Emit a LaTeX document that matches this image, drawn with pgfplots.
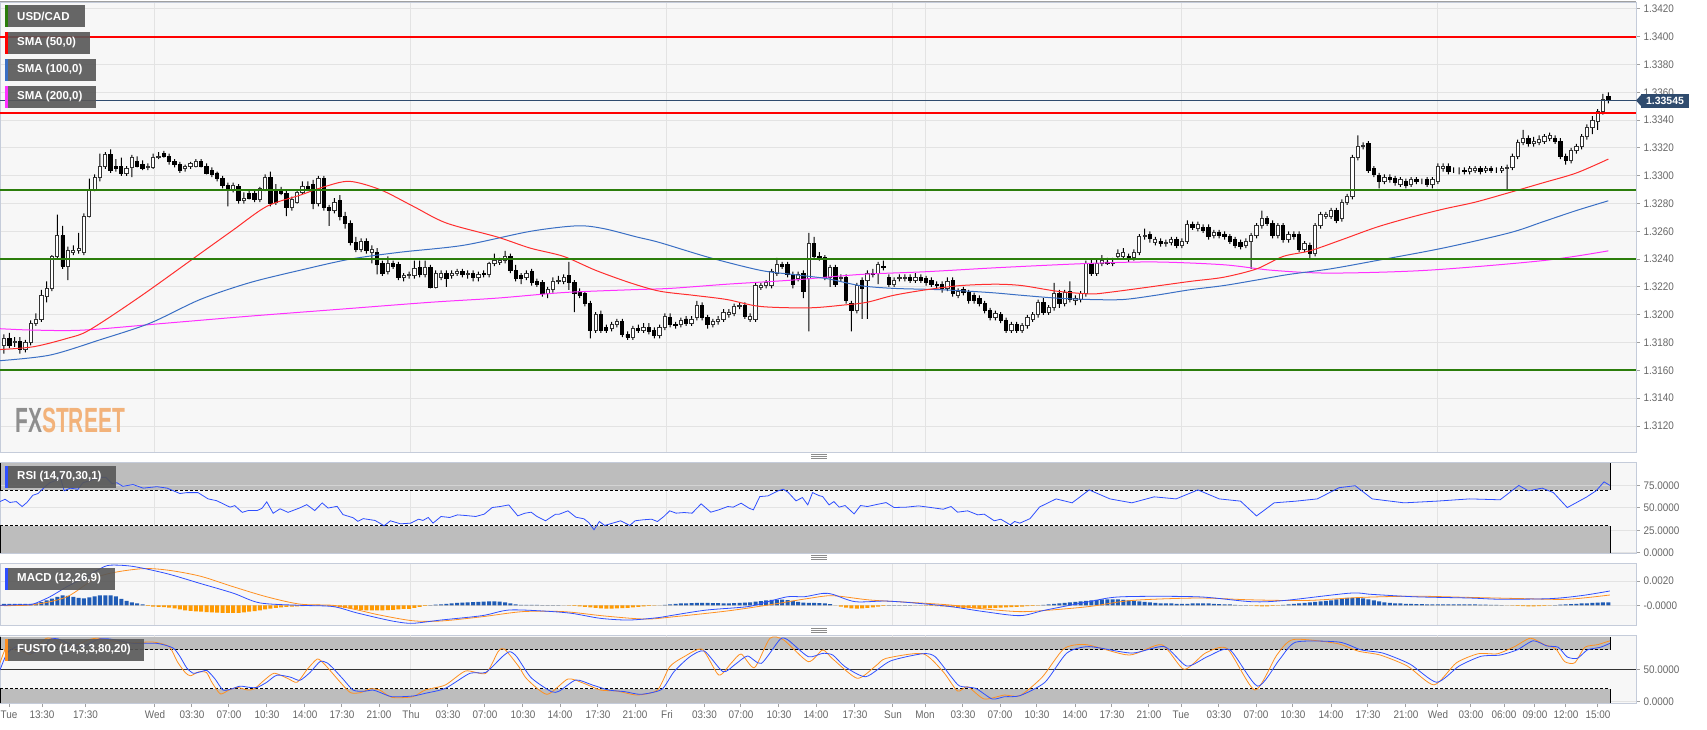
\documentclass[border=0pt]{standalone}
\usepackage{pgfplots}
\usepackage{pgfplotstable}
\pgfplotsset{compat=1.18}
\usepackage{fontspec}
\setmainfont{Liberation Sans}
\newfontfamily\tickfont{Liberation Sans}[FakeStretch=0.9]
\newfontfamily\logofont{Liberation Sans}[FakeStretch=0.6]

\definecolor{panelbg}{HTML}{F7F7F7}
\definecolor{panelbd}{HTML}{C5CCDA}
\definecolor{gridc}{HTML}{E3E3E3}
\definecolor{labc}{HTML}{666666}
\definecolor{tickc}{HTML}{A0A0A0}
\definecolor{bandc}{HTML}{BDBDBD}
\definecolor{srred}{HTML}{FF0000}
\definecolor{srgreen}{HTML}{2B7D0B}
\definecolor{pricec}{HTML}{2F4B6E}
\definecolor{smared}{HTML}{FF2E2E}
\definecolor{smablue}{HTML}{3A6FC4}
\definecolor{smamag}{HTML}{FF30FF}
\definecolor{legbg}{HTML}{575757}
\definecolor{indblue}{HTML}{2F4FFF}
\definecolor{indorange}{HTML}{FF9020}
\definecolor{histblue}{HTML}{1F5BB5}
\definecolor{historange}{HTML}{FF9A00}
\definecolor{logogray}{HTML}{8E8E8E}
\definecolor{logoorange}{HTML}{F2B27A}

\pgfplotsset{
  panel/.style={
    scale only axis, width=1636pt, anchor=north west,
    xmin=-0.75, xmax=306.2,
    axis background/.style={fill=panelbg},
    axis line style={draw=panelbd, line width=1pt},
    grid style={draw=gridc, line width=1pt},
    xtick={28.33,76.36,124.39,166.79,172.80,220.83,269.04},
    xticklabels={}, xmajorgrids, ymajorgrids,
    xtick style={draw=none},
    ytick pos=right, yticklabel pos=right,
    tick align=outside, major tick length=4pt,
    ytick style={draw=tickc, line width=1pt},
    yticklabel style={font=\tickfont\fontsize{11}{12}\selectfont, text=labc},
  },
  over/.style={
    scale only axis, width=1636pt, anchor=north west,
    xmin=-0.75, xmax=306.2, hide axis,
  },
}

% open high low close, one row per 30-minute candle
\pgfplotstableread{
o h l c
1.3178 1.3186 1.3172 1.3183
1.3183 1.3187 1.3176 1.3178
1.3180 1.3184 1.3177 1.3181
1.3181 1.3184 1.3172 1.3175
1.3175 1.3182 1.3173 1.3180
1.3180 1.3196 1.3178 1.3194
1.3194 1.3201 1.3192 1.3197
1.3197 1.3218 1.3195 1.3214
1.3213 1.3224 1.3209 1.3219
1.3219 1.3243 1.3217 1.3242
1.3242 1.3272 1.3240 1.3257
1.3257 1.3264 1.3233 1.3235
1.3235 1.3249 1.3225 1.3246
1.3245 1.3250 1.3243 1.3246
1.3246 1.3259 1.3244 1.3248
1.3245 1.3273 1.3243 1.3271
1.3271 1.3298 1.3270 1.3290
1.3290 1.3301 1.3289 1.3299
1.3299 1.3316 1.3296 1.3307
1.3307 1.3317 1.3305 1.3315
1.3315 1.3319 1.3302 1.3304
1.3307 1.3312 1.3303 1.3305
1.3307 1.3313 1.3300 1.3302
1.3302 1.3307 1.3300 1.3305
1.3306 1.3315 1.3299 1.3313
1.3310 1.3314 1.3306 1.3307
1.3308 1.3311 1.3304 1.3305
1.3306 1.3309 1.3304 1.3307
1.3306 1.3316 1.3305 1.3313
1.3313 1.3317 1.3312 1.3314
1.3316 1.3318 1.3313 1.3314
1.3314 1.3316 1.3308 1.3310
1.3310 1.3312 1.3306 1.3308
1.3308 1.3310 1.3302 1.3304
1.3305 1.3308 1.3303 1.3307
1.3307 1.3310 1.3305 1.3309
1.3307 1.3312 1.3306 1.3310
1.3310 1.3312 1.3306 1.3307
1.3307 1.3309 1.3301 1.3302
1.3304 1.3306 1.3299 1.3301
1.3302 1.3303 1.3296 1.3298
1.3298 1.3300 1.3291 1.3293
1.3293 1.3295 1.3278 1.3290
1.3290 1.3295 1.3288 1.3293
1.3292 1.3294 1.3280 1.3282
1.3282 1.3288 1.3280 1.3284
1.3287 1.3290 1.3283 1.3284
1.3287 1.3290 1.3281 1.3283
1.3283 1.3292 1.3281 1.3291
1.3290 1.3301 1.3289 1.3299
1.3299 1.3303 1.3278 1.3280
1.3289 1.3294 1.3279 1.3281
1.3290 1.3292 1.3286 1.3287
1.3287 1.3289 1.3271 1.3277
1.3277 1.3285 1.3275 1.3283
1.3281 1.3290 1.3280 1.3288
1.3288 1.3296 1.3287 1.3292
1.3292 1.3296 1.3289 1.3290
1.3294 1.3297 1.3276 1.3280
1.3280 1.3300 1.3278 1.3298
1.3298 1.3300 1.3275 1.3277
1.3277 1.3279 1.3264 1.3275
1.3275 1.3284 1.3273 1.3281
1.3282 1.3286 1.3268 1.3271
1.3271 1.3274 1.3262 1.3266
1.3266 1.3268 1.3250 1.3252
1.3252 1.3256 1.3245 1.3247
1.3247 1.3255 1.3245 1.3253
1.3253 1.3255 1.3244 1.3246
1.3245 1.3250 1.3237 1.3247
1.3245 1.3248 1.3229 1.3236
1.3237 1.3239 1.3228 1.3230
1.3231 1.3242 1.3229 1.3237
1.3237 1.3239 1.3233 1.3235
1.3236 1.3238 1.3225 1.3227
1.3227 1.3230 1.3224 1.3228
1.3228 1.3231 1.3226 1.3229
1.3228 1.3239 1.3226 1.3233
1.3234 1.3239 1.3227 1.3229
1.3229 1.3239 1.3227 1.3234
1.3234 1.3236 1.3219 1.3220
1.3220 1.3232 1.3219 1.3230
1.3227 1.3232 1.3225 1.3230
1.3230 1.3232 1.3220 1.3226
1.3228 1.3232 1.3226 1.3230
1.3230 1.3233 1.3228 1.3231
1.3231 1.3233 1.3227 1.3229
1.3229 1.3232 1.3226 1.3230
1.3230 1.3232 1.3224 1.3227
1.3227 1.3231 1.3224 1.3229
1.3230 1.3232 1.3227 1.3229
1.3229 1.3238 1.3227 1.3237
1.3237 1.3244 1.3235 1.3239
1.3238 1.3241 1.3236 1.3239
1.3239 1.3246 1.3237 1.3242
1.3242 1.3244 1.3230 1.3232
1.3232 1.3236 1.3224 1.3226
1.3228 1.3230 1.3222 1.3226
1.3227 1.3232 1.3225 1.3230
1.3231 1.3233 1.3221 1.3223
1.3224 1.3226 1.3220 1.3222
1.3223 1.3225 1.3213 1.3215
1.3215 1.3220 1.3212 1.3218
1.3218 1.3227 1.3216 1.3224
1.3224 1.3228 1.3222 1.3225
1.3224 1.3229 1.3222 1.3227
1.3228 1.3238 1.3218 1.3223
1.3223 1.3225 1.3202 1.3215
1.3217 1.3219 1.3212 1.3214
1.3215 1.3217 1.3206 1.3208
1.3208 1.3210 1.3183 1.3189
1.3189 1.3202 1.3187 1.3200
1.3200 1.3203 1.3187 1.3189
1.3191 1.3193 1.3187 1.3189
1.3190 1.3195 1.3188 1.3193
1.3193 1.3197 1.3191 1.3195
1.3195 1.3197 1.3184 1.3186
1.3186 1.3188 1.3182 1.3184
1.3184 1.3192 1.3182 1.3190
1.3190 1.3193 1.3187 1.3189
1.3189 1.3194 1.3187 1.3191
1.3191 1.3194 1.3186 1.3188
1.3189 1.3191 1.3183 1.3185
1.3185 1.3193 1.3183 1.3191
1.3191 1.3201 1.3189 1.3199
1.3198 1.3201 1.3191 1.3193
1.3193 1.3195 1.3190 1.3192
1.3193 1.3198 1.3191 1.3196
1.3197 1.3199 1.3192 1.3194
1.3194 1.3199 1.3192 1.3197
1.3198 1.3210 1.3196 1.3207
1.3207 1.3209 1.3196 1.3198
1.3198 1.3200 1.3190 1.3193
1.3193 1.3197 1.3191 1.3195
1.3195 1.3199 1.3193 1.3197
1.3197 1.3204 1.3195 1.3202
1.3200 1.3204 1.3198 1.3202
1.3201 1.3208 1.3199 1.3206
1.3206 1.3209 1.3204 1.3207
1.3207 1.3209 1.3197 1.3199
1.3197 1.3201 1.3195 1.3199
1.3197 1.3223 1.3195 1.3221
1.3220 1.3223 1.3218 1.3221
1.3221 1.3225 1.3219 1.3223
1.3221 1.3233 1.3219 1.3231
1.3230 1.3241 1.3228 1.3236
1.3236 1.3238 1.3233 1.3235
1.3236 1.3238 1.3227 1.3229
1.3229 1.3231 1.3219 1.3222
1.3226 1.3231 1.3224 1.3229
1.3230 1.3232 1.3212 1.3217
1.3226 1.3259 1.3188 1.3251
1.3251 1.3256 1.3240 1.3242
1.3242 1.3245 1.3239 1.3241
1.3241 1.3243 1.3225 1.3227
1.3227 1.3236 1.3220 1.3234
1.3234 1.3236 1.3220 1.3222
1.3226 1.3229 1.3224 1.3227
1.3227 1.3229 1.3208 1.3210
1.3208 1.3210 1.3188 1.3203
1.3203 1.3223 1.3201 1.3221
1.3225 1.3227 1.3197 1.3219
1.3225 1.3232 1.3197 1.3230
1.3230 1.3233 1.3227 1.3229
1.3230 1.3238 1.3222 1.3236
1.3235 1.3239 1.3232 1.3234
1.3227 1.3229 1.3220 1.3222
1.3222 1.3227 1.3220 1.3225
1.3226 1.3229 1.3224 1.3227
1.3226 1.3229 1.3224 1.3227
1.3227 1.3229 1.3223 1.3225
1.3225 1.3230 1.3223 1.3227
1.3227 1.3229 1.3223 1.3225
1.3226 1.3228 1.3221 1.3223
1.3225 1.3227 1.3220 1.3222
1.3222 1.3224 1.3219 1.3221
1.3222 1.3224 1.3216 1.3219
1.3219 1.3227 1.3217 1.3224
1.3225 1.3227 1.3213 1.3215
1.3214 1.3219 1.3212 1.3217
1.3218 1.3220 1.3214 1.3216
1.3216 1.3218 1.3208 1.3210
1.3214 1.3216 1.3208 1.3210
1.3212 1.3214 1.3206 1.3208
1.3208 1.3210 1.3201 1.3203
1.3203 1.3205 1.3196 1.3198
1.3198 1.3203 1.3196 1.3201
1.3200 1.3202 1.3194 1.3196
1.3196 1.3198 1.3187 1.3189
1.3189 1.3195 1.3187 1.3193
1.3193 1.3195 1.3187 1.3189
1.3189 1.3194 1.3187 1.3192
1.3192 1.3200 1.3190 1.3198
1.3197 1.3202 1.3195 1.3200
1.3200 1.3211 1.3198 1.3209
1.3209 1.3212 1.3200 1.3202
1.3202 1.3207 1.3200 1.3205
1.3205 1.3223 1.3203 1.3215
1.3215 1.3218 1.3205 1.3208
1.3208 1.3218 1.3206 1.3216
1.3217 1.3224 1.3209 1.3211
1.3210 1.3214 1.3207 1.3212
1.3211 1.3217 1.3209 1.3215
1.3215 1.3239 1.3213 1.3237
1.3237 1.3240 1.3228 1.3230
1.3230 1.3240 1.3228 1.3237
1.3237 1.3243 1.3235 1.3239
1.3238 1.3241 1.3236 1.3237
1.3237 1.3241 1.3235 1.3238
1.3242 1.3247 1.3240 1.3244
1.3242 1.3248 1.3240 1.3245
1.3242 1.3244 1.3238 1.3241
1.3241 1.3247 1.3239 1.3245
1.3245 1.3258 1.3243 1.3256
1.3256 1.3262 1.3254 1.3257
1.3258 1.3260 1.3252 1.3255
1.3252 1.3256 1.3250 1.3254
1.3253 1.3255 1.3249 1.3251
1.3251 1.3254 1.3249 1.3252
1.3252 1.3256 1.3250 1.3254
1.3254 1.3256 1.3248 1.3250
1.3250 1.3255 1.3248 1.3253
1.3253 1.3268 1.3251 1.3265
1.3265 1.3267 1.3261 1.3263
1.3262 1.3267 1.3260 1.3265
1.3263 1.3265 1.3259 1.3261
1.3263 1.3265 1.3254 1.3256
1.3257 1.3261 1.3255 1.3259
1.3259 1.3261 1.3255 1.3257
1.3258 1.3260 1.3254 1.3256
1.3256 1.3258 1.3251 1.3253
1.3254 1.3256 1.3248 1.3250
1.3252 1.3254 1.3247 1.3249
1.3250 1.3255 1.3248 1.3253
1.3253 1.3259 1.3233 1.3257
1.3257 1.3266 1.3255 1.3264
1.3264 1.3275 1.3262 1.3269
1.3269 1.3271 1.3264 1.3266
1.3266 1.3268 1.3255 1.3257
1.3257 1.3266 1.3255 1.3264
1.3264 1.3266 1.3252 1.3254
1.3254 1.3260 1.3252 1.3258
1.3258 1.3260 1.3254 1.3256
1.3258 1.3260 1.3245 1.3247
1.3247 1.3253 1.3245 1.3251
1.3250 1.3252 1.3241 1.3244
1.3244 1.3266 1.3242 1.3264
1.3264 1.3274 1.3262 1.3272
1.3271 1.3274 1.3269 1.3272
1.3271 1.3277 1.3269 1.3275
1.3275 1.3277 1.3266 1.3268
1.3269 1.3283 1.3267 1.3281
1.3281 1.3287 1.3279 1.3285
1.3285 1.3315 1.3283 1.3313
1.3313 1.3329 1.3311 1.3321
1.3321 1.3324 1.3319 1.3322
1.3323 1.3325 1.3302 1.3304
1.3305 1.3307 1.3299 1.3301
1.3300 1.3302 1.3291 1.3296
1.3296 1.3301 1.3294 1.3299
1.3299 1.3301 1.3295 1.3297
1.3298 1.3300 1.3293 1.3295
1.3294 1.3299 1.3292 1.3297
1.3296 1.3298 1.3291 1.3293
1.3294 1.3299 1.3292 1.3297
1.3297 1.3299 1.3294 1.3296
1.3296 1.3298 1.3294 1.3296
1.3297 1.3299 1.3292 1.3294
1.3294 1.3299 1.3291 1.3297
1.3296 1.3309 1.3294 1.3307
1.3305 1.3309 1.3303 1.3307
1.3307 1.3309 1.3301 1.3303
1.3304 1.3306 1.3302 1.3304
1.3304 1.3306 1.3301 1.3304
1.3304 1.3306 1.3301 1.3303
1.3303 1.3307 1.3301 1.3305
1.3304 1.3307 1.3302 1.3305
1.3305 1.3307 1.3301 1.3303
1.3304 1.3307 1.3302 1.3305
1.3305 1.3307 1.3302 1.3304
1.3304 1.3306 1.3302 1.3304
1.3304 1.3307 1.3302 1.3305
1.3305 1.3308 1.3290 1.3306
1.3306 1.3316 1.3304 1.3314
1.3314 1.3326 1.3312 1.3324
1.3324 1.3333 1.3322 1.3327
1.3327 1.3329 1.3321 1.3323
1.3323 1.3328 1.3321 1.3325
1.3324 1.3329 1.3322 1.3326
1.3325 1.3330 1.3323 1.3328
1.3327 1.3331 1.3325 1.3329
1.3327 1.3329 1.3323 1.3325
1.3325 1.3327 1.3312 1.3314
1.3314 1.3316 1.3308 1.3311
1.3311 1.3320 1.3309 1.3318
1.3318 1.3323 1.3316 1.3321
1.3321 1.3330 1.3319 1.3328
1.3328 1.3337 1.3326 1.3335
1.3335 1.3343 1.3330 1.3340
1.3339 1.3348 1.3333 1.3346
1.3346 1.3359 1.3344 1.3355
1.3357 1.3360 1.3352 1.33545
}\candles

% MACD histogram, in units of 0.0001, one value per candle
\pgfplotstableread[row sep=\\]{
h\\
1.2\\1.2\\1.2\\1.2\\1.2\\1.2\\1.6\\2.7\\4.1\\5.5\\
7.0\\8.2\\7.8\\7.0\\6.2\\5.8\\6.6\\7.4\\8.2\\8.2\\
8.2\\7.4\\5.3\\3.7\\2.5\\1.5\\0.7\\-0.4\\-1.0\\-1.2\\
-1.5\\-1.8\\-2.5\\-3.3\\-4.1\\-4.5\\-4.9\\-5.2\\-5.5\\-5.8\\
-6.0\\-6.2\\-6.3\\-6.3\\-6.2\\-5.8\\-5.2\\-4.7\\-4.1\\-3.3\\
-2.7\\-2.1\\-1.6\\-1.2\\-1.0\\-0.8\\-0.6\\-0.4\\0.2\\0.4\\
0.2\\-0.4\\-1.0\\-1.6\\-2.1\\-2.7\\-3.3\\-3.7\\-4.1\\-4.1\\
-4.1\\-4.1\\-4.0\\-3.7\\-3.3\\-2.9\\-2.9\\-2.1\\-1.2\\-0.4\\
0.2\\0.5\\0.8\\1.2\\1.6\\2.0\\2.3\\2.5\\2.7\\2.9\\
3.1\\3.3\\3.3\\3.1\\2.5\\1.6\\0.8\\0.4\\0.4\\0.3\\
0.3\\0.2\\0.2\\0.2\\0.1\\0\\-0.2\\-0.4\\-0.8\\-1.2\\
-1.6\\-2.1\\-2.5\\-2.7\\-2.7\\-2.5\\-2.3\\-2.1\\-1.6\\-1.2\\
-0.8\\-0.4\\-0.2\\0\\0.4\\0.8\\1.2\\1.6\\1.6\\1.8\\
2.0\\2.0\\2.0\\1.8\\1.8\\1.6\\1.6\\1.8\\2.0\\2.2\\
2.5\\3.0\\3.5\\4.1\\4.5\\4.7\\4.7\\4.3\\3.7\\2.9\\
2.3\\2.0\\2.0\\1.8\\1.6\\1.0\\0\\-1.0\\-1.8\\-2.5\\
-2.7\\-2.5\\-2.1\\-1.6\\-1.0\\-0.4\\0.1\\0.2\\0.2\\0.2\\
0.1\\0\\0\\-0.2\\-0.4\\-0.6\\-0.8\\-1.0\\-1.4\\-1.8\\
-2.1\\-2.3\\-2.5\\-2.5\\-2.5\\-2.3\\-2.1\\-1.8\\-1.6\\-1.4\\
-1.2\\-1.0\\-0.7\\-0.4\\-0.2\\0.4\\0.8\\1.2\\1.6\\2.1\\
2.5\\2.9\\3.3\\3.7\\4.1\\4.5\\4.8\\4.9\\4.9\\4.8\\
4.5\\4.1\\3.7\\3.3\\2.9\\2.5\\2.1\\1.6\\1.6\\1.5\\
1.2\\1.2\\1.2\\1.5\\1.6\\1.6\\1.5\\1.2\\1.0\\0.8\\
0.7\\0.4\\0.2\\0.1\\-0.2\\-0.7\\-0.8\\-0.8\\-0.4\\-0.2\\
0.4\\0.8\\1.2\\1.6\\2.1\\2.5\\2.9\\3.3\\3.7\\4.1\\
4.9\\5.8\\6.2\\6.2\\6.2\\5.8\\4.9\\4.1\\3.3\\2.5\\
2.1\\1.6\\1.5\\1.2\\1.2\\1.0\\1.0\\0.8\\0.8\\0.8\\
0.8\\0.7\\0.7\\0.7\\0.7\\0.7\\0.7\\0.5\\0.5\\0.4\\
0.3\\0.2\\0\\-0.2\\-0.5\\-0.7\\-0.8\\-0.8\\-0.7\\-0.4\\
-0.2\\0.2\\0.5\\0.8\\1.0\\1.2\\1.5\\1.6\\2.1\\2.3\\
2.5\\2.5\\
}\histo

\begin{document}
\begin{tikzpicture}[x=1pt,y=1pt]
\useasboundingbox (0,0) rectangle (1707,-729);

% ---------- price panel: frame, grid, ticks
\begin{axis}[panel, at={(0pt,-2pt)}, height=450pt, ymin=1.31013, ymax=1.3425,
  ytick={1.312,1.314,1.316,1.318,1.320,1.322,1.324,1.326,1.328,1.330,1.332,1.334,1.336,1.338,1.340,1.342},
  yticklabels={1.3120,1.3140,1.3160,1.3180,1.3200,1.3220,1.3240,1.3260,1.3280,1.3300,1.3320,1.3340,1.3360,1.3380,1.3400,1.3420}]
\addplot[draw=none] coordinates {(0,1.32)};
\end{axis}

% wicks
\begin{axis}[over, at={(0pt,-2pt)}, height=450pt, ymin=0.01013, ymax=0.0425,
  ybar stacked, bar width=1pt]
\addplot[draw=none, fill=none] table[x expr=\coordindex, y expr={\thisrow{l}-1.3}] {\candles};
\addplot[draw=none, fill=black] table[x expr=\coordindex, y expr={\thisrow{h}-\thisrow{l}}] {\candles};
\end{axis}

% bodies
\begin{axis}[over, at={(0pt,-2pt)}, height=450pt, ymin=0.01013, ymax=0.0425,
  ybar stacked, bar width=3.3pt]
\addplot[draw=none, fill=none] table[x expr=\coordindex, y expr={min(\thisrow{o},\thisrow{c})-1.3}] {\candles};
\addplot[draw=black!80, fill=white, line width=0.9pt] table[x expr=\coordindex, y expr={max(\thisrow{c}-\thisrow{o},0)}] {\candles};
\addplot[draw=black, fill=black, line width=0.9pt] table[x expr=\coordindex, y expr={max(\thisrow{o}-\thisrow{c},0)}] {\candles};
\end{axis}

% levels and moving averages on top
\begin{axis}[over, at={(0pt,-2pt)}, height=450pt, ymin=1.31013, ymax=1.3425]
\addplot[smamag, line width=1pt, smooth, tension=0.5] coordinates {(-0.75,1.3190) (5.5,1.3189) (14.9,1.3189) (30.5,1.3194) (46,1.3199) (63,1.3204) (80,1.3209) (92.5,1.3212) (105,1.3216) (117.5,1.3218) (125,1.3219) (135.6,1.3222) (148,1.3225) (160.6,1.3229) (173,1.3231) (186.9,1.3234) (203.8,1.3237) (216,1.3238) (228.8,1.3236) (238,1.3232) (248.8,1.3230) (266.9,1.3232) (288.8,1.3239) (301,1.3246)};
\addplot[smablue, line width=1pt, smooth, tension=0.5] coordinates {(-0.75,1.3167) (8.6,1.3171) (18,1.3182) (27.4,1.3194) (36.8,1.3211) (46,1.3223) (55.5,1.3232) (64.9,1.3240) (74.3,1.3245) (86.2,1.3250) (98.7,1.3260) (107.5,1.3264) (112.5,1.3262) (118.7,1.3256) (123,1.3252) (132.5,1.3241) (141.9,1.3232) (148,1.3229) (154.4,1.3226) (160.6,1.3221) (166.9,1.3219) (176,1.3218) (185,1.3216) (191,1.3214) (197.5,1.3212) (203.8,1.3211) (210,1.3211) (216,1.3214) (222.5,1.3218) (228.8,1.3221) (235,1.3225) (241,1.3229) (248.8,1.3233) (257.5,1.3239) (270,1.3248) (282.5,1.3259) (288.8,1.3267) (295,1.3275) (301,1.3282)};
\addplot[smared, line width=1pt, smooth, tension=0.5] coordinates {(-0.75,1.3175) (5.5,1.3177) (11.8,1.3183) (16,1.3189) (25.5,1.3213) (36.8,1.3244) (43,1.3261) (49.3,1.3278) (55.5,1.3286) (60,1.3292) (64.8,1.3296) (70.6,1.3290) (76.8,1.3278) (83,1.3266) (92.5,1.3256) (98.7,1.3248) (105,1.3242) (111,1.3232) (117.5,1.3223) (123,1.3217) (129.4,1.3214) (135.6,1.3211) (141.9,1.3206) (151,1.3205) (157.5,1.3207) (161.9,1.3209) (166.9,1.3214) (173,1.3218) (179.4,1.3221) (186,1.3222) (191,1.3221) (197.5,1.3217) (203.8,1.3215) (207,1.3216) (213,1.3219) (222.5,1.3224) (228.8,1.3227) (235,1.3233) (240,1.3242) (245,1.3246) (251,1.3254) (257.5,1.3263) (263.8,1.3270) (270,1.3276) (276,1.3281) (282.5,1.3288) (288.8,1.3295) (295,1.3302) (301,1.3312)};
\addplot[srred, line width=2pt] coordinates {(-0.75,1.3400) (306.2,1.3400)};
\addplot[srred, line width=2pt] coordinates {(-0.75,1.3345) (306.2,1.3345)};
\addplot[srgreen, line width=2pt] coordinates {(-0.75,1.3290) (306.2,1.3290)};
\addplot[srgreen, line width=2pt] coordinates {(-0.75,1.3240) (306.2,1.3240)};
\addplot[srgreen, line width=2pt] coordinates {(-0.75,1.3160) (306.2,1.3160)};
\addplot[pricec, line width=1pt] coordinates {(-0.75,1.33545) (306.2,1.33545)};
\end{axis}

% ---------- RSI panel
\begin{axis}[panel, at={(0pt,-462pt)}, height=91pt, ymin=-0.3, ymax=101.1,
  ytick={0,25,50,75}, yticklabels={0.0000,25.0000,50.0000,75.0000}]
\fill[bandc] (axis cs:-0.75,70) rectangle (axis cs:301.3,100);
\fill[bandc] (axis cs:-0.75,-0.3) rectangle (axis cs:301.3,30);
\draw[gridc!60!bandc, line width=1pt] (axis cs:-0.75,75) -- (axis cs:301.3,75);
\draw[black, line width=0.8pt, dash pattern=on 3pt off 2pt] (axis cs:-0.75,70) -- (axis cs:301.3,70);
\draw[black, line width=0.8pt, dash pattern=on 3pt off 2pt] (axis cs:-0.75,30) -- (axis cs:301.3,30);
\draw[black, line width=0.8pt] (axis cs:-0.6,70) -- (axis cs:-0.6,100) (axis cs:301.3,70) -- (axis cs:301.3,100);
\draw[black, line width=0.8pt] (axis cs:-0.6,-0.3) -- (axis cs:-0.6,30) (axis cs:301.3,-0.3) -- (axis cs:301.3,30);
\addplot[indblue, line width=0.8pt] coordinates {(-0.75,57) (0.2,59.6) (1.1,56) (2.3,57) (3.4,51.5) (4.3,56) (5.4,64) (6.4,66) (7.7,73.6) (8.6,78) (9.9,81) (10.5,85) (11.3,69) (12.4,72) (13.9,70.7) (14.8,78) (16.5,81) (18,84) (19.1,84) (20.3,77) (21.2,78) (22.3,74) (24.2,76) (26.1,72) (28.7,73.6) (30.6,72) (33,66) (34.3,67) (36.4,67) (38.3,60) (39.9,58) (42.4,50.8) (43.3,52.5) (44.7,45) (45.8,47) (47.5,47) (48.4,49.5) (49.3,56.7) (50.5,44) (51.8,49) (53.3,45) (55.5,50) (56.8,53.6) (58.3,47) (59.7,55.5) (60.8,49.8) (62.5,51.7) (63.6,42.5) (65.5,39) (66.4,35) (67.4,38) (69.6,36) (70.5,33) (71.3,30) (72.5,35.6) (74.4,32.2) (76.3,33) (77.8,37.4) (78.6,36) (79.6,39.3) (80.5,33) (82,40.4) (83.6,39.3) (85.1,42.2) (86.6,41.5) (88.5,40.4) (90.1,43) (91.6,50.4) (93.1,51.5) (94.7,53.3) (96.4,41.1) (97.7,44) (98.9,45.2) (100,40.4) (101.6,35.6) (103.5,43) (104.2,43) (105.8,46.7) (107.3,39.6) (108.8,37.8) (109.7,33.7) (110.7,25.6) (111.7,34.8) (112.7,30.4) (114.2,33) (115.7,35.6) (117.4,30.4) (118.4,35.6) (119.9,36.7) (121.5,37.4) (122.6,34.8) (123.8,40.4) (124.9,46.7) (126.1,44.1) (127.6,44.8) (129.1,44.1) (130.8,54.5) (132.6,45.2) (134.1,47.8) (135.8,51.5) (136.8,50.8) (138.3,55.2) (139.8,49.6) (140.6,47.8) (141.8,62.6) (143.3,63.3) (145.2,68.9) (146.2,70.8) (147.1,67.4) (148.6,57.8) (149.8,61.5) (150.8,53.3) (151.7,67) (152.9,63.7) (153.6,62.6) (154.8,53.3) (155.7,57) (156.7,50.8) (157.8,52.6) (159.5,43.3) (160.7,52.6) (162,51.5) (164,54.1) (165.5,55.9) (167,50.4) (169.3,50.8) (171.6,52.2) (173.9,50.4) (176.2,48.5) (177.7,51.5) (178.9,45.2) (180.8,46.7) (182.7,42.2) (183.9,43) (185.8,35.6) (187,37.4) (188.8,31.1) (189.6,34.8) (190.6,33) (192.5,38) (194.3,51) (197.4,60) (200.4,55.6) (203.6,70) (207.5,60) (211.6,55.6) (215.8,62.3) (219.9,60) (224,70) (228,60) (232,57.5) (235,41) (238.3,55.6) (242.4,57.5) (246.4,60) (250.5,72.5) (253.5,74.7) (256.7,60) (262.7,55.6) (268.8,57.5) (275,60) (280.7,59) (284.2,75) (286,69) (288.6,72) (290.7,67) (293.3,50.3) (296.9,62) (298.7,69) (300.2,79) (301.3,75)};
\end{axis}

% ---------- MACD panel (values in units of 0.0001)
\begin{axis}[panel, at={(0pt,-563pt)}, height=62pt, ymin=-16.2, ymax=34.8,
  ytick={0,20}, yticklabels={-0.0000,0.0020}]
\addplot[ybar, bar width=4pt, bar shift=0pt, draw=none, fill=histblue] table[x expr=\coordindex, y index=0, y expr={max(\thisrow{h},0)}] {\histo};
\addplot[ybar, bar width=4pt, bar shift=0pt, draw=none, fill=historange] table[x expr=\coordindex, y index=0, y expr={min(\thisrow{h},0)}] {\histo};
\addplot[indorange, line width=0.8pt, smooth, tension=0.5] coordinates {(-0.75,-0.2) (5.4,0.5) (11.8,7) (18,24) (25.5,30) (30.6,29) (36.8,24) (43,15.3) (49.3,7) (55.5,1) (61.7,0) (66,-3.5) (70.5,-8) (76.7,-12.7) (82,-12.9) (89.7,-9.4) (97.3,-5.2) (105,-5.2) (112.7,-8.8) (120.3,-11.3) (125.7,-9.4) (135.6,-4.7) (143.3,0.2) (151,5.7) (155.5,7.9) (162.4,4.4) (170.1,2.4) (177.7,0.2) (183.9,-3) (190.6,-5.2) (196,-4) (203.6,-1) (211.6,4) (224,6) (234,4.5) (244.4,4) (254.6,6.5) (264.8,7.5) (275,6.5) (285,5.5) (293.4,5) (301.3,8.5)};
\addplot[indblue, line width=0.8pt, smooth, tension=0.5] coordinates {(-0.75,0) (3,0.5) (5.4,1) (8.6,7) (11.8,15.3) (14.8,22) (18,30) (19.9,33) (24.2,32) (30.6,26) (36.8,18) (43,10) (48,2) (55.5,0) (61.7,-1) (66,-6) (70.5,-10.7) (73.6,-13.5) (76.7,-14.8) (82,-12.1) (89.7,-8.5) (94.7,-3.9) (101.2,-4.7) (106.5,-6.6) (111.9,-10.7) (117.2,-12.1) (122.6,-10.2) (125.7,-8) (131.8,-3.9) (139.5,-1.1) (143.3,3) (147.1,7.1) (150.2,7.1) (153.6,9.8) (155.5,9) (159.7,3) (165.5,3.5) (171.6,1.6) (177.7,-1.1) (183.9,-5.2) (190.6,-8.5) (195.3,-4) (203.6,3) (209.6,7) (224,7) (234,3) (240.3,4) (252.5,10) (256.6,9) (264.8,7) (275,6) (280.7,5) (290.1,5.5) (296,8) (301.3,11.8)};
\end{axis}

% ---------- FUSTO panel
\begin{axis}[panel, at={(0pt,-635pt)}, height=68pt, ymin=-2, ymax=102.9,
  ytick={0,50}, yticklabels={0.0000,50.0000},
  xmajorgrids=false, xtick pos=bottom,
  xtick={0.94,7.13,15.29,28.33,35.27,42.21,49.34,56.47,63.41,70.36,76.36,83.30,90.24,97.37,104.32,111.44,118.39,124.39,131.43,138.27,145.40,152.35,159.66,166.79,172.80,179.92,186.87,193.81,200.94,207.88,214.82,220.83,227.95,234.90,241.84,248.97,255.91,263.04,269.04,275.23,281.43,287.24,293.06,299.06},
  xticklabels={Tue,13:30,17:30,Wed,03:30,07:00,10:30,14:00,17:30,21:00,Thu,03:30,07:00,10:30,14:00,17:30,21:00,Fri,03:30,07:00,10:30,14:00,17:30,Sun,Mon,03:30,07:00,10:30,14:00,17:30,21:00,Tue,03:30,07:00,10:30,14:00,17:30,21:00,Wed,03:00,06:00,09:00,12:00,15:00},
  xtick style={draw=tickc, line width=1pt},
  xticklabel style={font=\tickfont\fontsize{11}{12}\selectfont, text=labc},
  extra x ticks={28.33,76.36,124.39,166.79,172.80,220.83,269.04},
  extra x tick labels={},
  extra x tick style={grid=major, major tick length=0pt}]
\fill[bandc] (axis cs:-0.75,80) rectangle (axis cs:301.3,100);
\fill[bandc] (axis cs:-0.75,-2) rectangle (axis cs:301.3,20);
\draw[black, line width=0.8pt, dash pattern=on 3pt off 2pt] (axis cs:-0.75,80) -- (axis cs:301.3,80);
\draw[black, line width=0.8pt, dash pattern=on 3pt off 2pt] (axis cs:-0.75,20) -- (axis cs:301.3,20);
\draw[black!80, line width=0.8pt] (axis cs:-0.75,50) -- (axis cs:306.2,50);
\draw[black, line width=0.8pt] (axis cs:-0.6,80) -- (axis cs:-0.6,100) (axis cs:301.3,80) -- (axis cs:301.3,100);
\draw[black, line width=0.8pt] (axis cs:-0.6,-2) -- (axis cs:-0.6,20) (axis cs:301.3,-2) -- (axis cs:301.3,20);
\addplot[indorange, line width=0.8pt, smooth, tension=0.4] coordinates {(-0.75,60) (0.5,85) (2,80) (3.5,78) (5,73) (6.5,88) (8,98) (9.6,96) (11.2,88) (12.8,85) (14.3,90) (16,96) (17.5,98) (19,96) (21,93) (24,91) (28,92) (31,85) (32.5,62) (34,45) (35,40) (36.5,46) (38,45) (39,30) (40.6,12) (42.2,18) (43.8,22) (45.7,18) (47,20) (48.8,33) (50.7,44) (53.2,36) (55,30) (56.9,50) (58.8,66) (60.1,58) (61.2,48) (63.1,30) (65,14) (66.9,14) (68.7,20) (70.5,18) (72.8,6.7) (76.7,7.7) (79,18) (82.8,25.8) (86.6,47.4) (90.4,43.8) (92.7,77.2) (93.9,81.3) (96.6,54) (98.1,35) (101.9,11.4) (105.8,35) (108.8,28.3) (111.9,18) (115,16.5) (118.8,10.3) (122.6,18) (124.9,54) (127.6,69.5) (131,80.8) (134.1,41.2) (136.4,59.2) (138.3,73.6) (140.8,52.5) (143.7,97.8) (146.3,95.2) (150.9,61.8) (153.6,79.8) (155.5,65.9) (160.1,36.1) (163.6,55.6) (165.5,66.9) (172.4,74.1) (176.2,46.3) (178.9,16.5) (180.8,23.2) (183.9,4.2) (187.7,10.3) (190.6,9.3) (194.8,38) (198.9,82) (203.1,88) (211.1,72) (217.2,88) (221.4,50) (225.4,75) (229.5,82) (234.7,18) (238.8,72) (241.9,96) (250,90) (254.1,78) (258.2,72) (263.3,55) (268.3,26) (272.5,60) (276.6,74) (280.2,74) (283.4,85) (286.4,98) (289,88) (291.1,82) (292.8,62) (294.7,60) (296.6,84) (299,88) (301.3,94)};
\addplot[indblue, line width=0.8pt, smooth, tension=0.4] coordinates {(-0.75,49) (0.6,75) (2.4,85) (3.9,80) (5.4,75) (7.1,82) (8.6,96) (10.1,97) (11.8,91) (13.3,87) (14.8,85) (16.5,92) (18,97) (19.5,97) (21.2,95) (24.2,90) (28.7,90) (31.7,83) (33,70) (34.3,52) (35.5,44) (36.8,46) (38.1,48) (39.6,35) (41.1,18) (42.8,20) (44.3,24) (46.2,22) (47.5,22) (49.3,30) (51.2,41) (53.7,38) (55.5,33) (57.4,45) (59.3,62) (60.6,60) (61.7,52) (63.6,35) (65.5,18) (67.4,16) (69.2,18) (70.5,14.5) (72.8,7.7) (76.7,8.8) (79,12.9) (82.8,20.6) (87.4,43.8) (90.4,45.3) (93.5,69.5) (94.9,77.2) (96.2,69.5) (98.9,37.1) (102.7,15.5) (104.2,16.5) (107.3,33.5) (110.4,25.8) (113.4,18.1) (116.5,15.5) (119.5,11.4) (123.4,19) (125.7,46.3) (128.7,69.5) (131.4,78.2) (134.9,46.3) (137.2,57.7) (139.5,70.5) (142.1,59.2) (145.6,96.2) (147.1,95.2) (150.9,69.5) (153.6,74.6) (155.5,72) (157.8,54) (161.7,38.6) (166.3,62.8) (172.4,74.1) (174.7,69.5) (177.7,38.6) (179.3,24.2) (182.3,20.6) (185.4,4.2) (187.7,7.7) (190.6,9.3) (195.3,30) (199.4,75) (203.6,85) (211.6,75) (217.7,85) (221.9,55) (225.9,70) (230,80) (235.2,24) (239.3,65) (242.4,92) (250.5,92) (254.6,80) (258.7,75) (263.8,58) (268.8,30) (273,55) (277.1,70) (280.7,72) (283.9,80) (286.9,94) (289.5,86) (291.6,84) (293.3,69) (295.2,67) (297.1,80) (299.5,84) (301.3,90)};
\end{axis}

% ---------- decorations
\draw[tickc, line width=1pt] (0,-1) -- (1636,-1);
% price tag
\fill[pricec] (1636,-100.5) -- (1641,-95) -- (1641,-106) -- cycle;
\fill[pricec] (1641,-94) rectangle (1689,-107.5);
\node[text=white, font=\bfseries\fontsize{10.5}{11}\selectfont, inner sep=0] at (1665,-100.8) {1.33545};
% panel resize handles
\foreach \yy in {456,557,630} {
  \draw[black!45, line width=0.6pt] (811,-\yy+2) -- (827,-\yy+2) (811,-\yy) -- (827,-\yy) (811,-\yy-2) -- (827,-\yy-2);
}
% watermark
\node[anchor=west, inner sep=0] at (15,-420) {\logofont\bfseries\fontsize{35}{35}\selectfont\textcolor{logogray}{FX}\textcolor{logoorange}{STREET}};
% legend tags
\newcommand{\tagbox}[6]{%
  \fill[legbg, fill opacity=0.9] (5,-#2) rectangle (#1,-#3);
  \fill[#4] (5,-#2) rectangle (8,-#3);
  \node[anchor=west, inner sep=0, text=white, font=\bfseries\fontsize{11.5}{12}\selectfont] at (17,-#5) {#6};
}
\tagbox{85}{5}{27}{srgreen}{16}{USD/CAD}
\tagbox{90}{32}{54}{srred}{43}{SMA (50,0)}
\tagbox{96}{59}{81}{smablue}{70}{SMA (100,0)}
\tagbox{96}{86}{108}{smamag}{97}{SMA (200,0)}
\tagbox{116}{466}{488}{indblue}{477}{RSI (14,70,30,1)}
\tagbox{115}{568}{590}{indblue}{579}{MACD (12,26,9)}
\tagbox{144}{639}{661}{indorange}{650}{FUSTO (14,3,3,80,20)}
\end{tikzpicture}
\end{document}
